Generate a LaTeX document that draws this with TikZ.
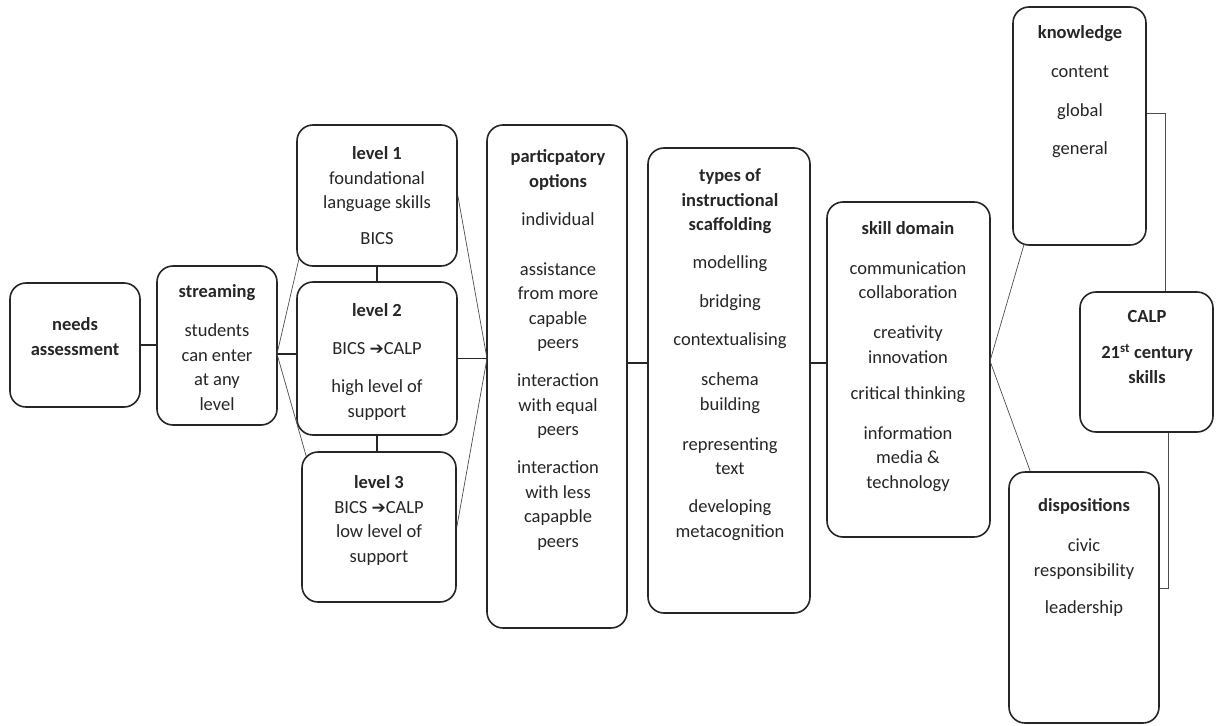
\documentclass[tikz,border=0pt]{standalone}
\usepackage{fontspec}
\setmainfont{Carlito}
\newfontfamily\dejavu{DejaVu Sans Bold}
\usetikzlibrary{calc}
\newcommand{\barrow}{{\dejavu\fontsize{17}{17}\selectfont ➔}}
\begin{document}
\begin{tikzpicture}[x=1pt,y=-1pt,
  box/.style={draw=black!85, line width=1.6pt, rounded corners=16pt, inner sep=0pt, fill=white},
  txt/.style={align=center, anchor=base, inner sep=0pt, text=black!85, font=\fontsize{18.5}{24.5}\selectfont},
  con/.style={draw=black!85, line width=1.3pt},
  fan/.style={draw=black!70, line width=0.7pt}]
\useasboundingbox (0,0) rectangle (1217,725);
% boxes
\node[box, minimum width=130pt, minimum height=124pt] (needs) at (75,345) {};
\node[box, minimum width=120pt, minimum height=159pt] (stream) at (217,345.5) {};
\node[box, minimum width=160pt, minimum height=141pt] (lev1) at (377,195.5) {};
\node[box, minimum width=160pt, minimum height=153pt] (lev2) at (377,358.5) {};
\node[box, minimum width=154pt, minimum height=150pt] (lev3) at (379,527) {};
\node[box, minimum width=140pt, minimum height=503pt] (part) at (557,376.5) {};
\node[box, minimum width=162pt, minimum height=465pt] (types) at (729,380.5) {};
\node[box, minimum width=163pt, minimum height=335pt] (skill) at (908.5,369.5) {};
\node[box, minimum width=133pt, minimum height=238pt] (know) at (1079.5,126) {};
\node[box, minimum width=133pt, minimum height=140pt] (calp) at (1146.5,362) {};
\node[box, minimum width=150pt, minimum height=251pt] (disp) at (1084,597.5) {};
% texts (anchored at the baseline of their last line)
\node[txt] (needs-t) at (75,355) {\textbf{needs}\\\textbf{assessment}};
\node[txt] (stream-t) at (217,410) {\textbf{streaming}\\[14.5pt]students\\can enter\\at any\\level};
\node[txt] (lev1-t) at (377,244) {\textbf{level 1}\\foundational\\language skills\\[11pt]BICS};
\node[txt] (lev2-t) at (377,417) {\textbf{level 2}\\[13.5pt]BICS \barrow CALP\\[13.5pt]high level of\\support};
\node[txt] (lev3-t) at (379,562) {\textbf{level 3}\\BICS \barrow CALP\\low level of\\support};
\node[txt] (part-t) at (558,547) {\textbf{particpatory}\\\textbf{options}\\[13.5pt]individual\\[25.5pt]assistance\\from more\\capable\\peers\\[13.5pt]interaction\\with equal\\peers\\[13.5pt]interaction\\with less\\capapble\\peers};
\node[txt] (types-t) at (730,537) {\textbf{types of}\\\textbf{instructional}\\\textbf{scaffolding}\\[13.5pt]modelling\\[14.5pt]bridging\\[13.5pt]contextualising\\[15.5pt]schema\\building\\[15.5pt]representing\\text\\[13.5pt]developing\\metacognition};
\node[txt] (skill-t) at (908,488) {\textbf{skill domain}\\[15.5pt]communication\\collaboration\\[15.5pt]creativity\\innovation\\[11.5pt]critical thinking\\[15.5pt]information\\media \&\\technology};
\node[txt] (know-t) at (1080,154) {\textbf{knowledge}\\[14.5pt]content\\[14.5pt]global\\[13.5pt]general};
\node[txt] (calp-t) at (1147,383) {\textbf{CALP}\\[11.5pt]\textbf{21\textsuperscript{st} century}\\\textbf{skills}};
\node[txt] (disp-t) at (1084,613) {\textbf{dispositions}\\[15.5pt]civic\\responsibility\\[12.5pt]leadership};
% helper coordinates
\coordinate (mid) at (0,363);
\coordinate (sfan) at (277,354);
\coordinate (pfan) at (487,358.5);
\coordinate (kfan) at (990,361);
\coordinate (kc) at (1165,113);
\coordinate (dc) at (1168,588);
% connectors
\draw[con] (needs.east) -- (needs.east -| stream.west);
\draw[fan] ($(lev1.south west)+(3,-9)$) -- (sfan) -- ($(lev3.north west)+(5,5)$);
\draw[con] (sfan) -- (sfan -| lev2.west);
\draw[con] (lev1.south) -- (lev1.south |- lev2.north);
\draw[con] (lev2.south) -- (lev2.south |- lev3.north);
\draw[fan] (lev1.east) -- (pfan) -- (lev3.east);
\draw[con] (lev2.east |- pfan) -- (pfan);
\draw[con] (part.east |- mid) -- (types.west |- mid);
\draw[con] (types.east |- mid) -- (skill.west |- mid);
\draw[fan] ($(know.south west)+(12,-2)$) -- (kfan) -- ($(disp.north west)+(22,0)$);
\draw[fan] (know.east |- kc) -- (kc) -- (kc |- calp.north);
\draw[fan] (calp.south -| dc) -- (dc) -- (dc -| disp.east);
\end{tikzpicture}
\end{document}
